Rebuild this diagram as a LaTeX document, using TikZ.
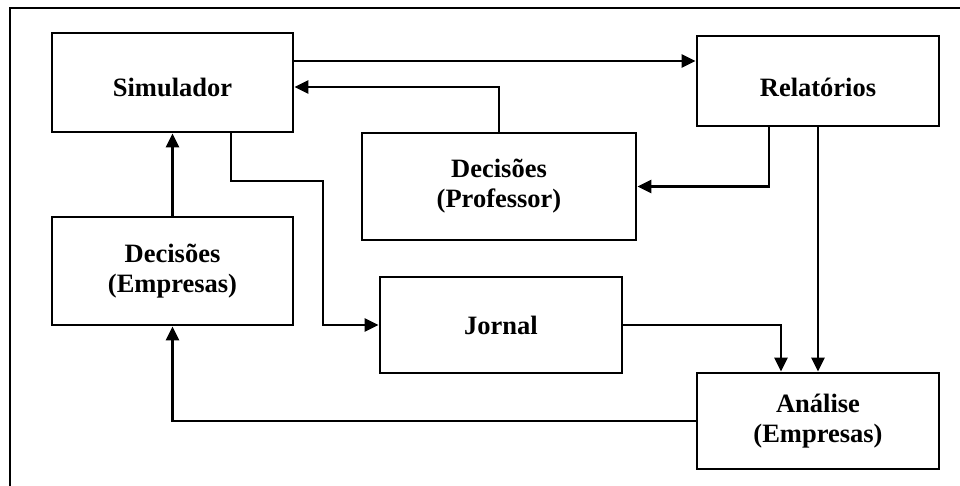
\documentclass[tikz,border=0pt]{standalone}
\usepackage{fontspec}
\setmainfont{Liberation Serif}
\usepackage{tikz}
\usetikzlibrary{calc,arrows.meta}

\begin{document}
\begin{tikzpicture}[x=1pt,y=-1pt,
 box/.style={draw,line width=2.8pt,inner sep=0pt,align=center,
  font=\fontsize{26.5}{30}\selectfont\bfseries},
 low/.style={text height=#1,text depth=0pt},
 arr/.style={line width=2.8pt,-{Triangle[length=14pt,width=13pt]}}]
\useasboundingbox (0,0) rectangle (960,486);
\draw[line width=2pt] (10,486)--(10,8)--(960,8);
\node[box,low=29pt,minimum width=241pt,minimum height=99pt] (sim) at (172.5,82.5) {Simulador};
\node[box,low=31pt,minimum width=242pt,minimum height=90pt] (rel) at (818,81) {Relatórios};
\node[box,minimum width=274pt,minimum height=107pt] (prof) at (499,186.5) {Decisões\\(Professor)};
\node[box,minimum width=241pt,minimum height=108pt] (emp) at (172.5,271) {Decisões\\(Empresas)};
\node[box,minimum width=242pt,minimum height=96pt] (jor) at (501,325) {Jornal};
\node[box,minimum width=242pt,minimum height=96pt] (ana) at (818,421) {Análise\\(Empresas)};
\coordinate (bend) at (323,181);
\draw[arr] ($(sim.east)+(0,-21.5)$) coordinate (s1) -- (s1 -| rel.west);
\draw[arr] (prof.north) |- ($(sim.east)+(0,4.5)$);
\draw[arr] ($(rel.south)+(-49,0)$) |- (prof.east);
\draw[arr] (rel.south) -- (ana.north);
\draw[arr] (emp.north) -- (sim.south);
\draw[arr] ($(sim.south)+(58.5,0)$) |- (bend) |- (jor.west);
\draw[arr] (jor.east) -| ($(ana.north)+(-37,0)$);
\draw[arr] (ana.west) -| (emp.south);
\end{tikzpicture}
\end{document}
